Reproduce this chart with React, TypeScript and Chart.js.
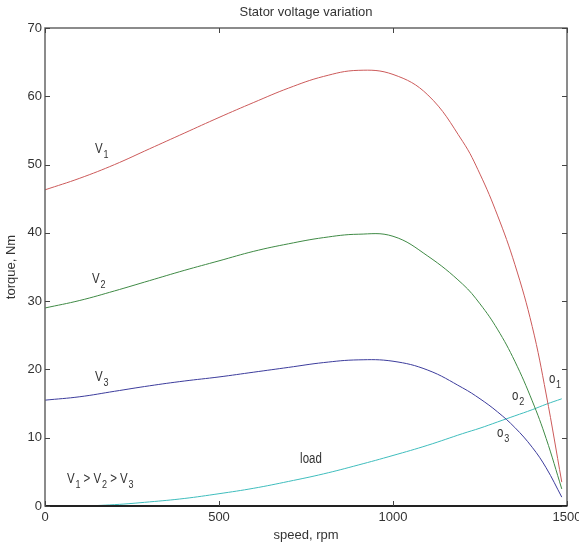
import React, { useEffect, useRef } from "react";
import { Chart, registerables } from "chart.js";

Chart.register(...registerables);

const speeds = [0, 100, 200, 300, 400, 500, 600, 700, 800, 900, 1000, 1100, 1200, 1250, 1300, 1350, 1400, 1440, 1485];
const torqueV1 = [46.3, 48.0, 50.0, 52.3, 54.6, 56.9, 59.1, 61.2, 62.9, 63.8, 63.2, 60.2, 53.4, 48.6, 42.6, 35.4, 26.3, 16.4, 3.5];
const torqueV2 = [29.0, 30.1, 31.5, 33.0, 34.5, 35.9, 37.3, 38.4, 39.3, 39.8, 39.5, 36.6, 32.5, 29.6, 25.9, 21.2, 15.4, 9.9, 2.5];
const torqueV3 = [15.5, 16.0, 16.8, 17.6, 18.3, 18.9, 19.6, 20.3, 21.0, 21.4, 21.2, 19.9, 17.3, 15.7, 13.8, 11.5, 8.6, 5.6, 1.3];
const torqueLoad = [0, 0.0, 0.2, 0.6, 1.1, 1.8, 2.6, 3.6, 4.7, 6.0, 7.4, 8.9, 10.6, 11.4, 12.3, 13.2, 14.1, 14.9, 15.7];

const xTicks = [0, 500, 1000, 1500];
const yTicks = [0, 10, 20, 30, 40, 50, 60, 70];

const titleText = "Stator voltage variation";
const xTitle = "speed, rpm";
const yTitle = "torque, Nm";

const labels = [
  { parts: [["V", "1"]], x: 144, y: 51.7 },
  { parts: [["V", "2"]], x: 135, y: 32.6 },
  { parts: [["V", "3"]], x: 144, y: 18.3 },
  { parts: [["V", "1"], [" > V", "2"], [" > V", "3"]], x: 63, y: 3.4 },
  { parts: [["load", ""]], x: 733, y: 6.3 },
  { parts: [["o", "1"]], x: 1448, y: 18.0 },
  { parts: [["o", "2"]], x: 1342, y: 15.5 },
  { parts: [["o", "3"]], x: 1299, y: 10.1 },
];

const FONT = "'Liberation Sans', Arial, sans-serif";
const TXT = "#333333";

const toXY = (ys: number[]) => speeds.map((s, i) => ({ x: s, y: ys[i] }));

export default function App() {
  const ref = useRef<HTMLCanvasElement | null>(null);
  useEffect(() => {
    document.body.style.margin = "0";
    const canvas = ref.current!;
    const decor = {
      id: "decor",
      afterDraw(chart: any) {
        const ctx = chart.ctx as CanvasRenderingContext2D;
        const { left, right, top, bottom } = chart.chartArea;
        const xs = chart.scales.x;
        const ys = chart.scales.y;
        ctx.save();
        ctx.strokeStyle = "#666";
        ctx.lineWidth = 1.5;
        ctx.strokeRect(left, top, right - left, bottom - top);
        ctx.strokeStyle = "#222";
        ctx.lineWidth = 2;
        ctx.beginPath();
        ctx.moveTo(left, bottom);
        ctx.lineTo(right, bottom);
        ctx.stroke();
        ctx.strokeStyle = "#444";
        ctx.lineWidth = 1;
        ctx.beginPath();
        xTicks.forEach((t) => {
          const px = Math.round(xs.getPixelForValue(t)) + 0.5;
          ctx.moveTo(px, bottom);
          ctx.lineTo(px, bottom - 5);
          ctx.moveTo(px, top);
          ctx.lineTo(px, top + 5);
        });
        yTicks.forEach((t) => {
          const py = Math.round(ys.getPixelForValue(t)) + 0.5;
          ctx.moveTo(left, py);
          ctx.lineTo(left + 5, py);
          ctx.moveTo(right, py);
          ctx.lineTo(right - 5, py);
        });
        ctx.stroke();
        ctx.fillStyle = TXT;
        ctx.font = `13px ${FONT}`;
        ctx.textAlign = "center";
        ctx.textBaseline = "middle";
        ctx.fillText(titleText, (left + right) / 2, 12);
        ctx.fillText(xTitle, (left + right) / 2, 535);
        ctx.save();
        ctx.translate(11, (top + bottom) / 2);
        ctx.rotate(-Math.PI / 2);
        ctx.fillText(yTitle, 0, 0);
        ctx.restore();
        ctx.textAlign = "left";
        ctx.textBaseline = "alphabetic";
        const SX = 0.82;
        labels.forEach((lb) => {
          const x0 = xs.getPixelForValue(lb.x);
          const py = ys.getPixelForValue(lb.y);
          ctx.save();
          ctx.translate(x0, py);
          ctx.scale(SX, 1);
          let px = 0;
          lb.parts.forEach(([m, s]) => {
            ctx.font = `14px ${FONT}`;
            ctx.fillText(m, px, 0);
            px += ctx.measureText(m).width + 1;
            if (s) {
              ctx.font = `11px ${FONT}`;
              ctx.fillText(s, px, 5);
              px += ctx.measureText(s).width;
            }
          });
          ctx.restore();
        });
        ctx.restore();
      },
    };
    const ds = (label: string, data: number[], color: string) => ({
      label,
      data: toXY(data),
      borderColor: color,
      backgroundColor: color,
      borderWidth: 1,
      pointRadius: 0,
      tension: 0.4,
      fill: false,
    });
    const chart = new Chart(canvas, {
      type: "line",
      data: {
        datasets: [
          ds("V1", torqueV1, "#cc5a5a"),
          ds("V2", torqueV2, "#3f8a45"),
          ds("V3", torqueV3, "#3c3c9c"),
          ds("load", torqueLoad, "#3fbdbd"),
        ],
      },
      options: {
        animation: false,
        responsive: false,
        devicePixelRatio: 1,
        layout: { padding: { top: 28, right: 12, left: 0, bottom: 0 } },
        plugins: { legend: { display: false }, tooltip: { enabled: false }, title: { display: false } },
        scales: {
          x: {
            type: "linear",
            min: 0,
            max: 1500,
            afterBuildTicks: (s: any) => {
              s.ticks = xTicks.map((v) => ({ value: v }));
            },
            afterFit: (s: any) => {
              s.height = 40;
              s.paddingLeft = 0;
              s.paddingRight = 0;
            },
            ticks: { padding: 4, color: TXT, font: { family: FONT, size: 13 }, maxRotation: 0, callback: (v: any) => String(v) },
            grid: { display: false, drawTicks: false },
            border: { display: false },
          },
          y: {
            type: "linear",
            min: 0,
            max: 70,
            afterBuildTicks: (s: any) => {
              s.ticks = yTicks.map((v) => ({ value: v }));
            },
            afterFit: (s: any) => {
              s.width = 45;
              s.paddingTop = 0;
              s.paddingBottom = 0;
            },
            ticks: { padding: 3, color: TXT, font: { family: FONT, size: 13 }, callback: (v: any) => String(v) },
            grid: { display: false, drawTicks: false },
            border: { display: false },
          },
        },
      },
      plugins: [decor],
    });
    return () => chart.destroy();
  }, []);
  return (
    <div style={{ position: "fixed", left: 0, top: 0, width: 579, height: 546, background: "#fff" }}>
      <canvas ref={ref} width={579} height={546} />
    </div>
  );
}
